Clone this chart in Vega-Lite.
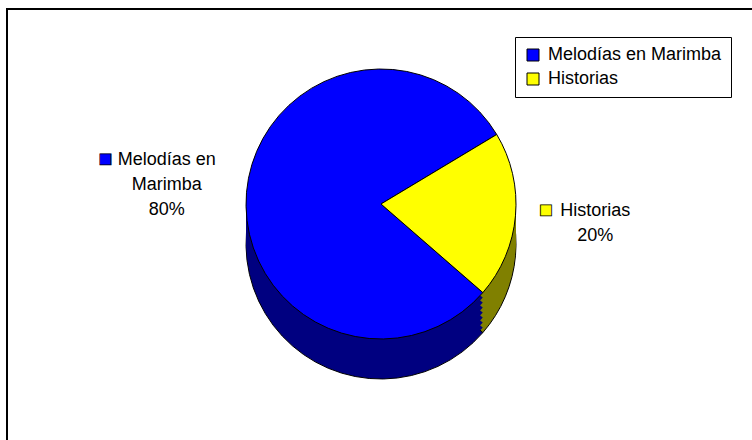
{
  "$schema": "https://vega.github.io/schema/vega-lite/v6.json",
  "width": 752,
  "height": 440,
  "autosize": {"type": "fit", "contains": "padding"},
  "padding": {"left": 7, "top": 9, "right": -3, "bottom": -3},
  "background": "white",
  "view": {"stroke": "black", "strokeWidth": 2, "fill": "white"},
  "config": {
    "view": {"stroke": "black", "strokeWidth": 2},
    "font": "Liberation Sans"
  },
  "data": {
    "values": [
      {"categoria": "Melodías en Marimba", "valor": 80, "orden": 2, "etiqueta": "Melodías en\nMarimba\n80%"},
      {"categoria": "Historias", "valor": 20, "orden": 1, "etiqueta": "Historias\n20%"}
    ]
  },
  "layer": [
    {
      "mark": {"type": "arc", "outerRadius": 135, "yOffset": 18, "stroke": "black", "strokeWidth": 1},
      "encoding": {
        "theta": {"field": "valor", "type": "quantitative", "stack": true, "scale": {"range": [1.03, 7.313]}},
        "order": {"field": "orden"},
        "color": {"condition": {"test": "datum.categoria === 'Historias'", "value": "#808000"}, "value": "#000080"}
      }
    },
    {
      "mark": {"type": "arc", "outerRadius": 135, "yOffset": 13},
      "encoding": {
        "theta": {"field": "valor", "type": "quantitative", "stack": true},
        "order": {"field": "orden"},
        "color": {"condition": {"test": "datum.categoria === 'Historias'", "value": "#808000"}, "value": "#000080"}
      }
    },
    {
      "mark": {"type": "arc", "outerRadius": 135, "yOffset": 8},
      "encoding": {
        "theta": {"field": "valor", "type": "quantitative", "stack": true},
        "order": {"field": "orden"},
        "color": {"condition": {"test": "datum.categoria === 'Historias'", "value": "#808000"}, "value": "#000080"}
      }
    },
    {
      "mark": {"type": "arc", "outerRadius": 135, "yOffset": 3},
      "encoding": {
        "theta": {"field": "valor", "type": "quantitative", "stack": true},
        "order": {"field": "orden"},
        "color": {"condition": {"test": "datum.categoria === 'Historias'", "value": "#808000"}, "value": "#000080"}
      }
    },
    {
      "mark": {"type": "arc", "outerRadius": 135, "yOffset": -2},
      "encoding": {
        "theta": {"field": "valor", "type": "quantitative", "stack": true},
        "order": {"field": "orden"},
        "color": {"condition": {"test": "datum.categoria === 'Historias'", "value": "#808000"}, "value": "#000080"}
      }
    },
    {
      "mark": {"type": "arc", "outerRadius": 135, "yOffset": -7},
      "encoding": {
        "theta": {"field": "valor", "type": "quantitative", "stack": true},
        "order": {"field": "orden"},
        "color": {"condition": {"test": "datum.categoria === 'Historias'", "value": "#808000"}, "value": "#000080"}
      }
    },
    {
      "mark": {"type": "arc", "outerRadius": 135, "yOffset": -12},
      "encoding": {
        "theta": {"field": "valor", "type": "quantitative", "stack": true},
        "order": {"field": "orden"},
        "color": {"condition": {"test": "datum.categoria === 'Historias'", "value": "#808000"}, "value": "#000080"}
      }
    },
    {
      "mark": {"type": "arc", "outerRadius": 135, "yOffset": -17},
      "encoding": {
        "theta": {"field": "valor", "type": "quantitative", "stack": true},
        "order": {"field": "orden"},
        "color": {"condition": {"test": "datum.categoria === 'Historias'", "value": "#808000"}, "value": "#000080"}
      }
    },
    {
      "mark": {"type": "arc", "outerRadius": 135, "yOffset": -22, "stroke": "black", "strokeWidth": 1},
      "encoding": {
        "theta": {"field": "valor", "type": "quantitative", "stack": true},
        "order": {"field": "orden"},
        "color": {
          "field": "categoria",
          "type": "nominal",
          "scale": {"domain": ["Melodías en Marimba", "Historias"], "range": ["#0000FF", "#FFFF00"]},
          "legend": {
            "orient": "none",
            "legendX": 508,
            "legendY": 28,
            "title": null,
            "strokeColor": "black",
            "fillColor": "white",
            "padding": 9,
            "symbolType": "square",
            "symbolSize": 144,
            "symbolStrokeColor": "black",
            "symbolStrokeWidth": 1,
            "labelFontSize": 18,
            "labelFont": "Liberation Sans",
            "labelColor": "black",
            "labelLimit": 400,
            "rowPadding": 6,
            "labelOffset": 6
          }
        }
      }
    },
    {
      "mark": {"type": "text", "radius": 215, "yOffset": -22, "dy": -25, "fontSize": 18, "lineBreak": "\n", "lineHeight": 25, "align": "center", "baseline": "middle", "color": "black"},
      "encoding": {
        "theta": {"field": "valor", "type": "quantitative", "stack": true},
        "order": {"field": "orden"},
        "text": {"condition": {"test": "datum.categoria === 'Melodías en Marimba'", "field": "etiqueta"}, "value": ""}
      }
    },
    {
      "mark": {"type": "text", "radius": 215, "yOffset": -22, "dy": -12, "fontSize": 18, "lineBreak": "\n", "lineHeight": 25, "align": "center", "baseline": "middle", "color": "black"},
      "encoding": {
        "theta": {"field": "valor", "type": "quantitative", "stack": true},
        "order": {"field": "orden"},
        "text": {"condition": {"test": "datum.categoria === 'Historias'", "field": "etiqueta"}, "value": ""}
      }
    },
    {
      "mark": {"type": "text", "radius": 215, "yOffset": -22, "dx": -61, "dy": -26, "fontSize": 23, "align": "center", "baseline": "middle", "color": "#0000FF", "stroke": "black", "strokeWidth": 0.8},
      "encoding": {
        "theta": {"field": "valor", "type": "quantitative", "stack": true},
        "order": {"field": "orden"},
        "text": {"condition": {"test": "datum.categoria === 'Melodías en Marimba'", "value": "■"}, "value": ""}
      }
    },
    {
      "mark": {"type": "text", "radius": 215, "yOffset": -22, "dx": -49, "dy": -13, "fontSize": 23, "align": "center", "baseline": "middle", "color": "#FFFF00", "stroke": "black", "strokeWidth": 0.8},
      "encoding": {
        "theta": {"field": "valor", "type": "quantitative", "stack": true},
        "order": {"field": "orden"},
        "text": {"condition": {"test": "datum.categoria === 'Historias'", "value": "■"}, "value": ""}
      }
    }
  ]
}
